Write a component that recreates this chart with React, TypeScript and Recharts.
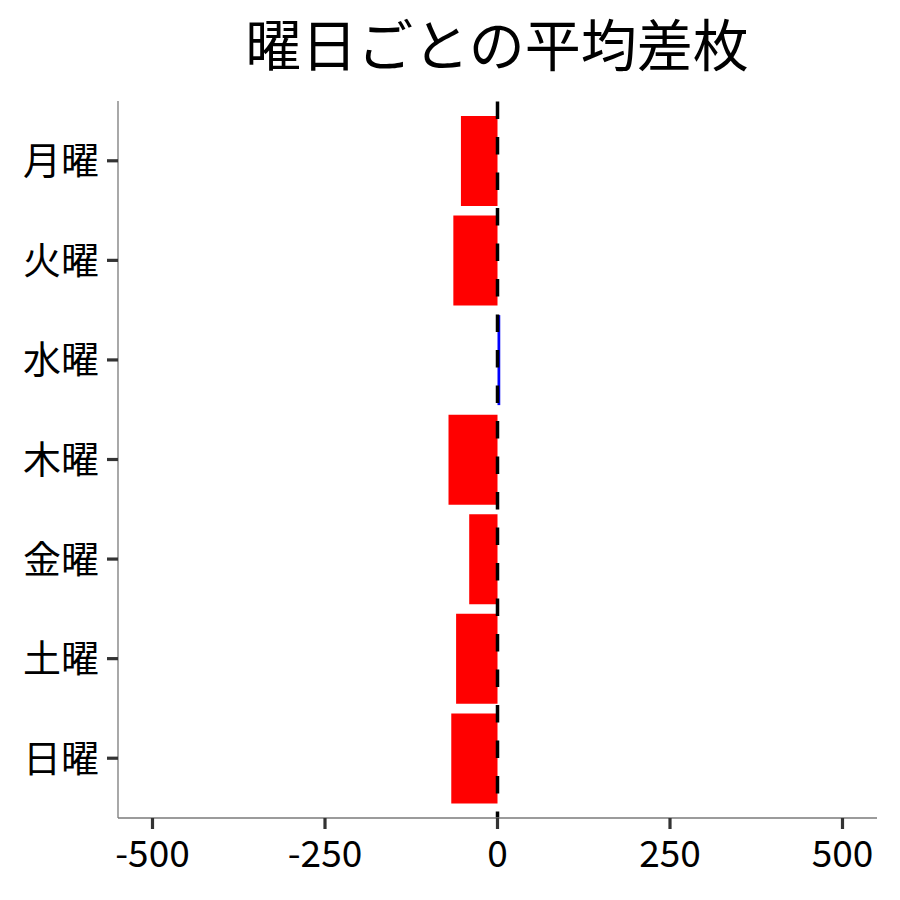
import React from "react";
import { BarChart, Bar, XAxis, YAxis, Cell, ReferenceLine } from "recharts";

const days = ["月曜", "火曜", "水曜", "木曜", "金曜", "土曜", "日曜"];
const avgDiff = [-53, -64, 4, -71, -41, -60, -67];
const xTicks = [-500, -250, 0, 250, 500];
const xDomain = [-550, 550];

const data = days.map((d, i) => ({ day: d, value: avgDiff[i] }));

const FONT = '"Noto Sans CJK JP", "Noto Sans", sans-serif';
const TICK_SIZE = 11;
const X_MARGIN = 12;
const Y_MARGIN = 8;

const XTick = (props: any) => {
  const { x, y, payload } = props;
  const y0 = y - X_MARGIN - TICK_SIZE;
  return (
    <g>
      <line x1={x} x2={x} y1={y0} y2={y0 + TICK_SIZE} stroke="#333" strokeWidth={3.2} />
      <text x={x} y={y} dy="0.71em" textAnchor="middle" fontSize={37} fontFamily={FONT} fill="#000">
        {payload.value}
      </text>
    </g>
  );
};

const YTick = (props: any) => {
  const { x, y, payload } = props;
  const x0 = x + Y_MARGIN;
  return (
    <g>
      <line x1={x0} x2={x0 + TICK_SIZE} y1={y} y2={y} stroke="#333" strokeWidth={3.2} />
      <text x={x} y={y} dy="0.355em" textAnchor="end" fontSize={38} fontFamily={FONT} fill="#000">
        {payload.value}
      </text>
    </g>
  );
};

export default function App() {
  return (
    <div style={{ position: "absolute", left: 0, top: 0, width: 900, height: 900, background: "#fff" }}>
      <BarChart
        width={900}
        height={900}
        data={data}
        layout="vertical"
        margin={{ top: 101, right: 23, bottom: 0, left: 0 }}
        barCategoryGap="5%"
      >
        <XAxis
          type="number"
          domain={xDomain}
          ticks={xTicks}
          allowDataOverflow
          height={82}
          axisLine={{ stroke: "#7a7a7a", strokeWidth: 1.3 }}
          tickLine={false}
          tickSize={TICK_SIZE}
          tickMargin={X_MARGIN}
          tick={<XTick />}
        />
        <YAxis
          type="category"
          dataKey="day"
          width={118}
          padding={{ top: 10, bottom: 10 }}
          axisLine={{ stroke: "#7a7a7a", strokeWidth: 1.3 }}
          tickLine={false}
          tickSize={TICK_SIZE}
          tickMargin={Y_MARGIN}
          tick={<YTick />}
        />
        <Bar dataKey="value" isAnimationActive={false}>
          {data.map((d, i) => (
            <Cell key={i} fill={d.value < 0 ? "#FF0000" : "#0000FF"} />
          ))}
        </Bar>
        <ReferenceLine
          x={0}
          stroke="#000"
          strokeWidth={3.5}
          strokeDasharray="17.5 18"
          strokeDashoffset={11}
        />
      </BarChart>
      <svg width={900} height={100} style={{ position: "absolute", left: 0, top: 0 }}>
        <text x={497} y={66} textAnchor="middle" fontSize={56} fontFamily={FONT} fill="#000">
          曜日ごとの平均差枚
        </text>
      </svg>
    </div>
  );
}
